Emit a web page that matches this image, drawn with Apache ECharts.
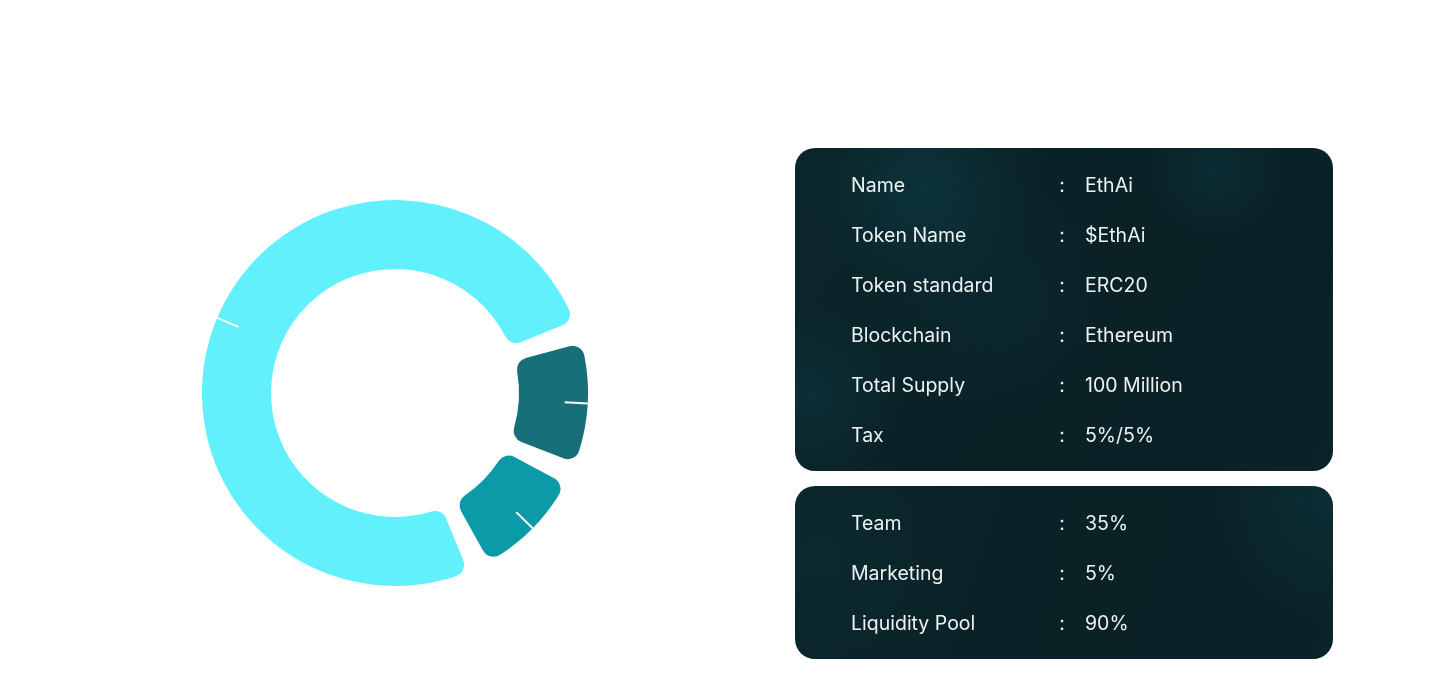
<!DOCTYPE html>
<html>
<head>
<meta charset="utf-8">
<script src="https://cdn.jsdelivr.net/npm/echarts@6/dist/echarts.min.js"></script>
<style>
html,body{margin:0;padding:0;background:#fff;}
#chart{width:1440px;height:694px;}
</style>
</head>
<body>
<div id="chart"></div>
<script>
// Donut slices (visual shares read from the ring)
const sliceNames = ['Team', 'Marketing', 'Liquidity Pool'];
const sliceValues = [12, 11, 77];

// Token info panel
const infoLabels = ['Name', 'Token Name', 'Token standard', 'Blockchain', 'Total Supply', 'Tax'];
const infoValues = ['EthAi', '$EthAi', 'ERC20', 'Ethereum', '100 Million', '5%/5%'];

// Allocation panel
const allocLabels = ['Team', 'Marketing', 'Liquidity Pool'];
const allocValues = ['35%', '5%', '90%'];

const sliceColors = ['#177079', '#0B9AA8', '#62F0FD'];
const textColor = '#ECF2F2';
const font = '19.5px Inter';

const chart = echarts.init(document.getElementById('chart'), null, {renderer: 'canvas'});

const panels = [
  {x: 795, y: 148, width: 538, height: 323, r: 20,
   glows: [[925, 190, 110, 0.55], [1215, 170, 70, 0.4], [810, 395, 90, 0.4], [1000, 300, 120, 0.18]]},
  {x: 795, y: 486, width: 538, height: 173, r: 20,
   glows: [[1330, 500, 120, 0.4], [830, 560, 110, 0.15]]}
];

const graphics = [];
panels.forEach(function (p) {
  const shape = {x: p.x, y: p.y, width: p.width, height: p.height, r: p.r};
  graphics.push({type: 'rect', silent: true, shape: shape,
    style: {fill: new echarts.graphic.LinearGradient(0, 0, 1, 1, [
      {offset: 0, color: '#0B262B'},
      {offset: 0.55, color: '#0A2126'},
      {offset: 1, color: '#0A2328'}
    ])}});
  p.glows.forEach(function (g) {
    graphics.push({type: 'rect', silent: true, shape: shape,
      style: {fill: new echarts.graphic.RadialGradient(g[0], g[1], g[2], [
        {offset: 0, color: 'rgba(13,62,72,' + g[3] + ')'},
        {offset: 1, color: 'rgba(13,62,72,0)'}
      ], true)}});
  });
});

function addRows(labels, values, y0) {
  labels.forEach(function (lab, i) {
    const y = y0 + i * 50;
    graphics.push({type: 'text', silent: true, x: 851, y: y,
      style: {text: lab, fill: textColor, font: font, textAlign: 'left', textVerticalAlign: 'middle', align: 'left', verticalAlign: 'middle'}});
    graphics.push({type: 'text', silent: true, x: 1062, y: y,
      style: {text: ':', fill: textColor, font: font, textAlign: 'center', textVerticalAlign: 'middle', align: 'center', verticalAlign: 'middle'}});
    graphics.push({type: 'text', silent: true, x: 1085, y: y,
      style: {text: values[i], fill: textColor, font: font, textAlign: 'left', textVerticalAlign: 'middle', align: 'left', verticalAlign: 'middle'}});
  });
}
addRows(infoLabels, infoValues, 186);
addRows(allocLabels, allocValues, 524);

const pieData = sliceNames.map(function (n, i) {
  return {name: n, value: sliceValues[i], itemStyle: {color: sliceColors[i]}};
});
const tickData = sliceNames.map(function (n, i) {
  return {name: n, value: sliceValues[i]};
});

chart.setOption({
  backgroundColor: '#ffffff',
  animation: false,
  graphic: {elements: graphics},
  series: [
    {
      type: 'pie',
      center: [395, 393],
      radius: [124, 193],
      startAngle: 18.5,
      clockwise: true,
      padAngle: 7,
      itemStyle: {borderRadius: 12},
      label: {show: false},
      labelLine: {show: false},
      silent: true,
      data: pieData,
      z: 2
    },
    {
      type: 'pie',
      center: [395, 393],
      radius: [0, 170],
      startAngle: 18.5,
      clockwise: true,
      padAngle: 7,
      avoidLabelOverlap: false,
      itemStyle: {color: 'rgba(0,0,0,0)'},
      label: {show: true, formatter: ' ', color: 'rgba(0,0,0,0)', position: 'outside'},
      labelLine: {show: true, length: 23, length2: 0, smooth: false, lineStyle: {color: '#ffffff', width: 2}},
      silent: true,
      data: tickData,
      z: 3
    }
  ]
});
</script>
</body>
</html>
